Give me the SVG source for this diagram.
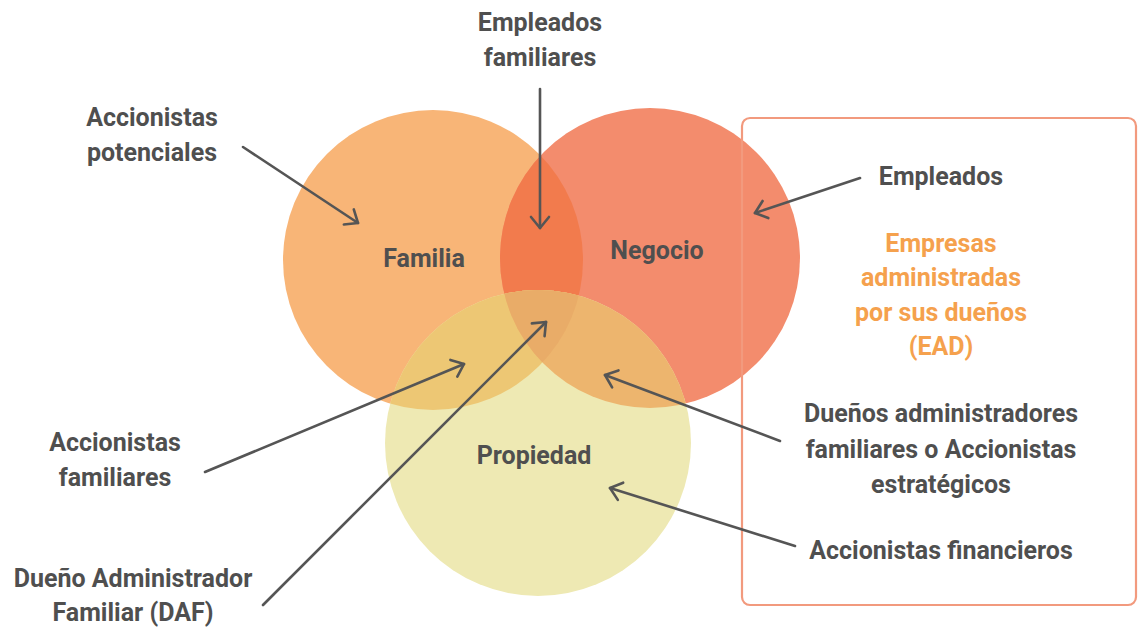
<svg xmlns="http://www.w3.org/2000/svg" width="1138" height="628" viewBox="0 0 1138 628">
<style>
.t{font-family:Roboto,"Liberation Sans",sans-serif;font-weight:bold;font-size:25px;fill:#4f4f4f;text-anchor:middle}
.o{fill:#F5A14D}
.c{fill:none;stroke:#555555;stroke-width:2.6;stroke-linecap:round}
</style>
<defs>
<clipPath id="cF"><circle cx="433" cy="260" r="150"/></clipPath>
<clipPath id="cN"><circle cx="650" cy="258" r="150"/></clipPath>
<marker id="ah" viewBox="0 0 24 24" refX="20" refY="12" markerWidth="24" markerHeight="24" orient="auto" markerUnits="userSpaceOnUse">
<path d="M9,3 L20,12 L9,21" fill="none" stroke="#555555" stroke-width="2.6" stroke-linecap="round" stroke-linejoin="round"/>
</marker>
</defs>
<rect width="1138" height="628" fill="#ffffff"/>
<g id="circles">
<g id="familia"><circle cx="433" cy="260" r="150" fill="#F8B577"/></g>
<g id="negocio"><circle cx="650" cy="258" r="150" fill="#F38C6D"/></g>
<circle cx="650" cy="258" r="150" fill="#F27B4D" clip-path="url(#cF)"/>
<g id="propiedad"><circle cx="538" cy="443" r="153" fill="#EEE9B3"/></g>
<circle cx="538" cy="443" r="153" fill="#EDC774" clip-path="url(#cF)"/>
<circle cx="538" cy="443" r="153" fill="#EDB56E" clip-path="url(#cN)"/>
<g clip-path="url(#cF)"><circle cx="538" cy="443" r="153" fill="#E9AC68" clip-path="url(#cN)"/></g>
</g>
<g id="ead-box"><rect x="742" y="118" width="394" height="487" rx="8" fill="none" stroke="#F29A7E" stroke-width="2.2"/></g>
<g id="connectors">
<line class="c" x1="540" y1="89" x2="540" y2="228" marker-end="url(#ah)"/>
<line class="c" x1="243" y1="147" x2="358" y2="223" marker-end="url(#ah)"/>
<line class="c" x1="860" y1="178" x2="755" y2="213" marker-end="url(#ah)"/>
<line class="c" x1="205" y1="472" x2="464" y2="364" marker-end="url(#ah)"/>
<line class="c" x1="263" y1="605" x2="546" y2="322" marker-end="url(#ah)"/>
<line class="c" x1="780" y1="441" x2="605" y2="375" marker-end="url(#ah)"/>
<line class="c" x1="795" y1="546" x2="610" y2="488" marker-end="url(#ah)"/>
</g>
<g id="lbl-familia"><text class="t" x="424" y="267">Familia</text></g>
<g id="lbl-negocio"><text class="t" x="657" y="259">Negocio</text></g>
<g id="lbl-propiedad"><text class="t" x="534" y="464">Propiedad</text></g>
<g id="empleados-familiares"><text class="t" x="540" y="31">Empleados</text><text class="t" x="540" y="66">familiares</text></g>
<g id="accionistas-potenciales"><text class="t" x="152" y="126">Accionistas</text><text class="t" x="152" y="161">potenciales</text></g>
<g id="empleados"><text class="t" x="941" y="185">Empleados</text></g>
<g id="ead"><text class="t o" x="941" y="252">Empresas</text><text class="t o" x="941" y="286">administradas</text><text class="t o" x="941" y="321">por sus dueños</text><text class="t o" x="941" y="355">(EAD)</text></g>
<g id="duenos-administradores"><text class="t" x="941" y="422">Dueños administradores</text><text class="t" x="941" y="458">familiares o Accionistas</text><text class="t" x="941" y="493">estratégicos</text></g>
<g id="accionistas-financieros"><text class="t" x="941" y="559">Accionistas financieros</text></g>
<g id="accionistas-familiares"><text class="t" x="115" y="451">Accionistas</text><text class="t" x="115" y="486">familiares</text></g>
<g id="daf"><text class="t" x="133" y="587">Dueño Administrador</text><text class="t" x="133" y="621">Familiar (DAF)</text></g>
</svg>
